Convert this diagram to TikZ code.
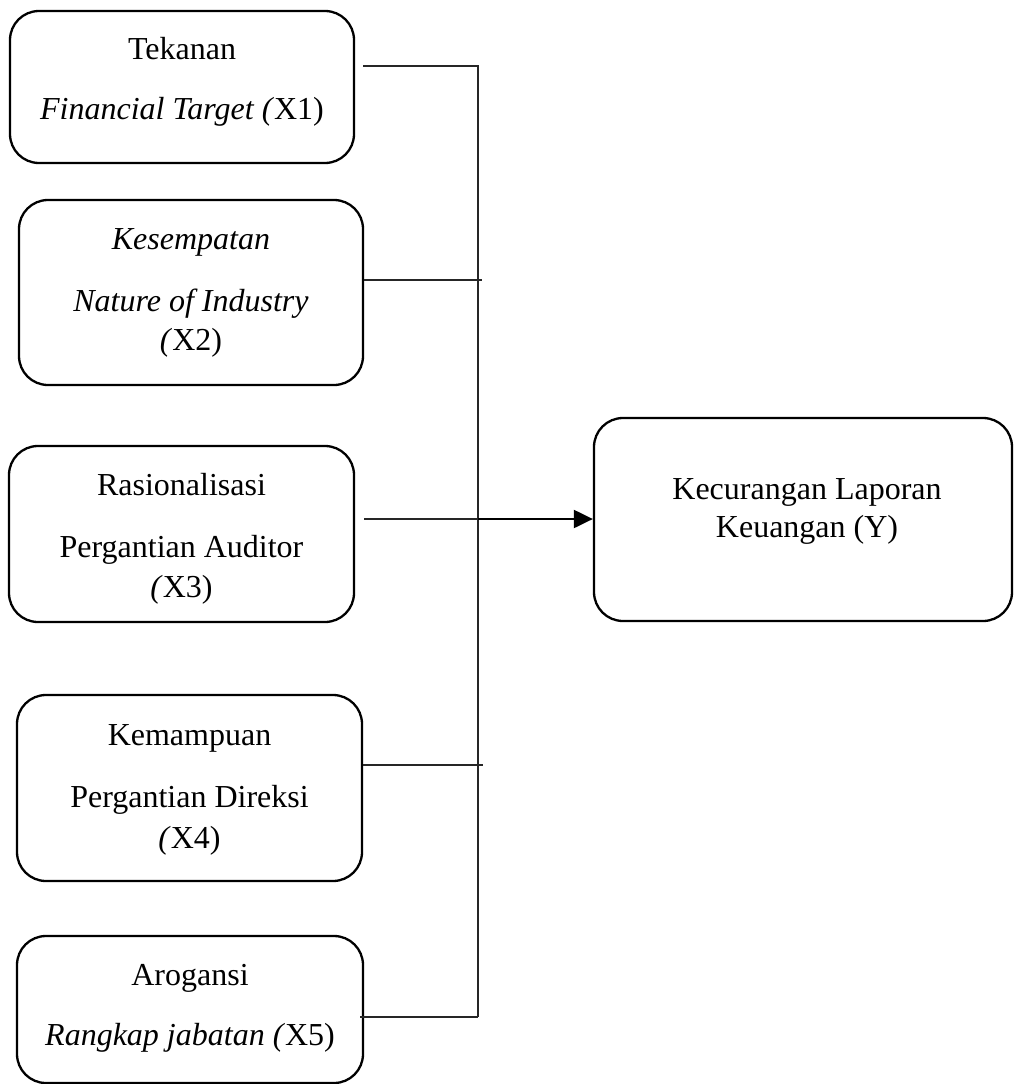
\documentclass[tikz,border=0pt]{standalone}
\usepackage{fontspec}
\setmainfont{Liberation Serif}
\usetikzlibrary{arrows.meta,calc}
\begin{document}
\begin{tikzpicture}[x=1pt,y=-1pt,
  box/.style={draw=black,line width=2.3pt,rounded corners=29pt},
  txt/.style={anchor=base,inner sep=0pt,font=\fontsize{32}{38}\selectfont},
  conn/.style={draw=black!85,line width=1.2pt},
  arr/.style={draw=black,line width=2.2pt,-{Triangle[length=19pt,width=18pt]}}]
\useasboundingbox (0,0) rectangle (1013,1084);
% boxes
\node[box,minimum width=344pt,minimum height=152pt] (b1) at (182,87) {};
\node[box,minimum width=344pt,minimum height=185pt] (b2) at (191,292.5) {};
\node[box,minimum width=345pt,minimum height=176pt] (b3) at (181.5,534) {};
\node[box,minimum width=345pt,minimum height=186pt] (b4) at (189.5,788) {};
\node[box,minimum width=346pt,minimum height=147pt] (b5) at (190,1009.5) {};
\node[box,minimum width=418pt,minimum height=203pt] (bY) at (803,519.5) {};
% texts
\node[txt] (t1a) at (182,59) {Tekanan};
\node[txt] (t1b) at (182,119) {\textit{Financial Target (}X1)};
\node[txt] (t2a) at (191,249) {\textit{Kesempatan}};
\node[txt] (t2b) at (191,311) {\textit{Nature of Industry}};
\node[txt] (t2c) at (191,350) {\textit{(}X2)};
\node[txt] (t3a) at (181.5,495) {Rasionalisasi};
\node[txt] (t3b) at (181.5,557) {Pergantian Auditor};
\node[txt] (t3c) at (181.5,597) {\textit{(}X3)};
\node[txt] (t4a) at (189.5,745) {Kemampuan};
\node[txt] (t4b) at (189.5,807) {Pergantian Direksi};
\node[txt] (t4c) at (189.5,848) {\textit{(}X4)};
\node[txt] (t5a) at (190,985) {Arogansi};
\node[txt] (t5b) at (190,1045) {\textit{Rangkap jabatan (}X5)};
\node[txt] (tya) at (807,499) {Kecurangan Laporan};
\node[txt] (tyb) at (807,537) {Keuangan (Y)};
% junction coordinates
\coordinate (j1) at (478,66);
\coordinate (j2) at (482,280);
\coordinate (j3) at (478,519);
\coordinate (j4) at (483,765);
\coordinate (j5) at (478,1017);
% connectors
\draw[conn] ($(b1.east |- j1)+(8,0)$) -- (j1) -- (j5);
\draw[conn] (b2.east |- j2) -- (j2);
\draw[conn] ($(b3.east |- j3)+(9,0)$) -- (j3);
\draw[conn] (b4.east |- j4) -- (j4);
\draw[conn] ($(b5.east |- j5)+(-4,0)$) -- (j5);
\draw[arr] (j3) -- (bY.west |- j3);
\end{tikzpicture}
\end{document}
